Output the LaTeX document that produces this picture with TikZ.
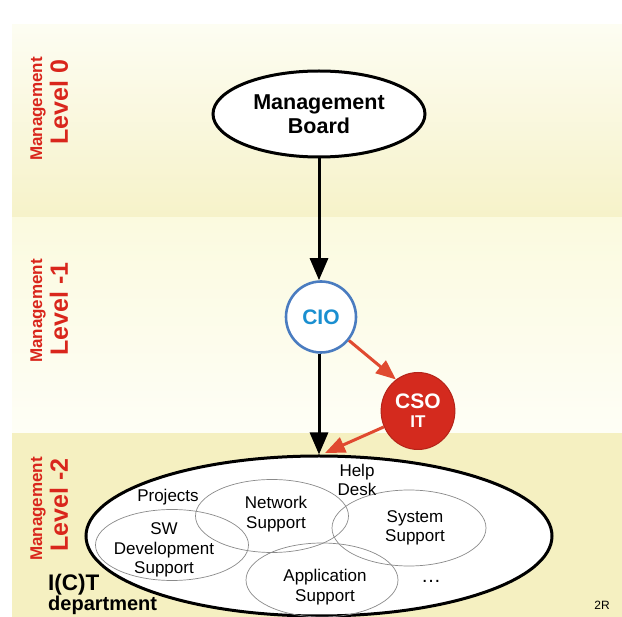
\documentclass[tikz,border=0pt]{standalone}
\usepackage{fontspec}
\setmainfont{Liberation Sans}
\usetikzlibrary{arrows.meta,shapes.geometric}
\definecolor{lvlred}{HTML}{D9261C}
\definecolor{cioblue}{HTML}{4A7CC0}
\definecolor{ciotext}{HTML}{1A8FD0}
\definecolor{csored}{HTML}{D42A1E}
\definecolor{arrred}{HTML}{E04A30}
\definecolor{bandA}{HTML}{FDFDF2}
\definecolor{bandB}{HTML}{F6F2C9}
\definecolor{bandC}{HTML}{FBFADF}
\definecolor{bandD}{HTML}{FEFEF6}
\definecolor{bandE}{HTML}{F5F0C1}
\definecolor{thin}{HTML}{8A8A8A}
\tikzset{
  lvlsmall/.style={rotate=90, text=lvlred, font=\bfseries\fontsize{17}{18}\selectfont},
  lvlbig/.style={rotate=90, text=lvlred, font=\bfseries\fontsize{25}{26}\selectfont},
  blkarrow/.style={line width=3pt, -{Triangle[length=22pt,width=18pt]}},
  redarrow/.style={line width=3pt, draw=arrred, -{Triangle[length=20pt,width=16pt]}, arrred},
  unit/.style={ellipse, draw=thin, line width=0.7pt, inner sep=0pt},
  unittext/.style={align=center, font=\fontsize{17}{19.5}\selectfont}
}
\begin{document}
\begin{tikzpicture}[x=1pt,y=-1pt]
\useasboundingbox (0,0) rectangle (622,617);
\clip (0,0) rectangle (622,617);
% background bands
\fill[white] (0,0) rectangle (622,617);
\shade[top color=bandA, bottom color=bandB] (12,25) rectangle (622,218);
\shade[top color=bandC, bottom color=bandD] (12,218) rectangle (622,433);
\fill[bandE] (12,433) rectangle (622,617);
% level labels
\node[lvlsmall] (m0) at (38,109) {Management};
\node[lvlbig] (l0) at (59,102) {Level 0};
\node[lvlsmall] (m1) at (38,311) {Management};
\node[lvlbig] (l1) at (59,309) {Level -1};
\node[lvlsmall] (m2) at (38,509) {Management};
\node[lvlbig] (l2) at (59,505) {Level -2};
% nodes
\node[ellipse, draw=black, fill=white, line width=3pt, minimum width=212pt, minimum height=86pt, align=center,
  font=\bfseries\fontsize{21.5}{24}\selectfont] (board) at (319,114) {Management\\Board};
\node[ellipse, draw=cioblue, fill=white, line width=2.6pt, minimum width=70pt, minimum height=71pt,
  text=ciotext, font=\bfseries\fontsize{21}{22}\selectfont] (cio) at (321,317) {CIO};
\node[ellipse, draw=csored!85!black, fill=csored, line width=1pt, minimum width=72pt, minimum height=77pt,
  text=white, align=center, font=\bfseries\fontsize{21}{19}\selectfont] (cso) at (418,411) {CSO\\{\fontsize{17}{19}\selectfont IT}};
\node[ellipse, draw=black, fill=white, line width=3pt, minimum width=466pt, minimum height=160pt] (ict) at (319,536) {};
% inner units
\node[unit, minimum width=153pt, minimum height=71pt] (sw) at (172,545) {};
\node[unit, minimum width=153pt, minimum height=73pt] (net) at (272,516) {};
\node[unit, minimum width=154pt, minimum height=76pt] (sys) at (409,528) {};
\node[unit, minimum width=152pt, minimum height=74pt] (app) at (322,580) {};
\node[unittext] (swt) at (164,550) {SW\\Development\\Support};
\node[unittext] (nett) at (276,514) {Network\\Support};
\node[unittext] (syst) at (415,528) {System\\Support};
\node[unittext] (appt) at (325,587) {Application\\Support};
\node[unittext] (proj) at (168,497) {Projects};
\node[unittext] (help) at (357,480) {Help\\Desk};
\node[font=\fontsize{20}{20}\selectfont] (dots) at (431,581) {\dots};
\node[align=left, anchor=north west, inner sep=0pt] (ict-label) at (48,574)
  {{\bfseries\fontsize{22.5}{22}\selectfont I(C)T}\\[0pt]{\bfseries\fontsize{20}{21}\selectfont department}};
\node[font=\fontsize{12}{13}\selectfont] (tag) at (602,605) {2R};
% connectors
\coordinate (redtip) at (325,453);
\draw[blkarrow] (board.south) -- (board.south |- cio.north);
\draw[blkarrow] (board.south |- cio.south) -- (board.south |- ict.north);
\draw[redarrow] (cio.-40) -- (cso.125);
\draw[redarrow] (cso.205) -- (redtip);
\end{tikzpicture}
\end{document}
